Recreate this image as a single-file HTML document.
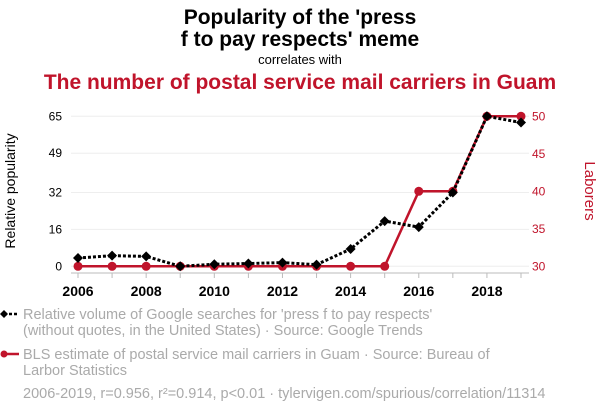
<!DOCTYPE html>
<html><head><meta charset="utf-8"><style>
body{margin:0;width:600px;height:414px;background:#fff;font-family:"Liberation Sans",sans-serif;overflow:hidden}
</style></head><body>
<svg id="c" width="600" height="414" xmlns="http://www.w3.org/2000/svg">
<text x="300" y="24" text-anchor="middle" font-size="21" font-weight="bold" fill="#000">Popularity of the 'press</text>
<text x="300" y="46" text-anchor="middle" font-size="21" font-weight="bold" fill="#000">f to pay respects' meme</text>
<text x="300" y="64" text-anchor="middle" font-size="13" fill="#000">correlates with</text>
<text x="300" y="89" text-anchor="middle" font-size="21" font-weight="bold" fill="#c0142b">The number of postal service mail carriers in Guam</text>
<text transform="translate(15,191) rotate(-90)" text-anchor="middle" font-size="14" fill="#000">Relative popularity</text>
<text transform="translate(585,191) rotate(90)" text-anchor="middle" font-size="15" fill="#c0142b">Laborers</text>
<g id="grid"></g><g id="axes"></g><g id="marks"></g>
<g font-size="14.5" fill="#aaa">
<line x1="4" y1="314" x2="19" y2="314" stroke="#000" stroke-width="2.5" stroke-dasharray="3,2"/>
<path d="M4,310 L8,314 L4,318 L0,314Z" fill="#000"/>
<text x="23" y="319">Relative volume of Google searches for 'press f to pay respects'</text>
<text x="23" y="335">(without quotes, in the United States) · Source: Google Trends</text>
<line x1="4" y1="354" x2="19" y2="354" stroke="#c0142b" stroke-width="2.5"/>
<circle cx="4" cy="354" r="3.5" fill="#c0142b"/>
<text x="23" y="359">BLS estimate of postal service mail carriers in Guam · Source: Bureau of</text>
<text x="23" y="375">Larbor Statistics</text>
<text x="23" y="398">2006-2019, r=0.956, r²=0.914, p&lt;0.01 · tylervigen.com/spurious/correlation/11314</text>
</g>
</svg>
<script>
const years=[2006,2007,2008,2009,2010,2011,2012,2013,2014,2015,2016,2017,2018,2019];
const searches=[3.6,4.6,4.3,0,0.9,1.2,1.6,0.7,7.5,19.6,17,32,65,62.3];
const carriers=[30,30,30,30,30,30,30,30,30,30,40,40,50,50];
const leftTicks=[0,16,32,49,65];
const rightTicks=[30,35,40,45,50];
const xTicks=[2006,2008,2010,2012,2014,2016,2018];
const NS="http://www.w3.org/2000/svg";
const x=v=>78+(v-2006)*(521-78)/13;
const yL=v=>266.3-v*150/65;
const yR=v=>266.3-(v-30)*150/20;
function mk(t,a,p){const e=document.createElementNS(NS,t);for(const k in a)e.setAttribute(k,a[k]);document.getElementById(p).appendChild(e);return e;}
leftTicks.forEach(t=>{
  const g=mk('line',{x1:71,x2:529,y1:yL(t),y2:yL(t),stroke:'#eee','stroke-width':1},'grid');
  
  
  const l=mk('text',{x:62,y:yL(t)+4,'text-anchor':'end','font-size':12,fill:'#000'},'axes');l.textContent=t;
  
  
});
rightTicks.forEach(t=>{
  const l=mk('text',{x:532,y:yR(t)+4,'font-size':12,fill:'#c0142b'},'axes');l.textContent=t;
  
  
});
const ax=mk('line',{x1:71,x2:529,y1:273,y2:273,stroke:'#bbb','stroke-width':1},'axes');


years.forEach(yv=>{mk('line',{x1:x(yv),x2:x(yv),y1:273,y2:278,stroke:'#bbb'},'axes');});
xTicks.forEach(t=>{
  const l=mk('text',{x:x(t),y:296,'text-anchor':'middle','font-size':14,'font-weight':'bold',fill:'#000'},'axes');l.textContent=t;
  
  
});
const rl=mk('polyline',{points:years.map((yv,i)=>x(yv)+','+yR(carriers[i])).join(' '),fill:'none',stroke:'#c0142b','stroke-width':2.5},'marks');


years.forEach((yv,i)=>{
  const c=mk('circle',{cx:x(yv),cy:yR(carriers[i]),r:4.5,fill:'#c0142b'},'marks');
  
  
});
const bl=mk('polyline',{points:years.map((yv,i)=>x(yv)+','+yL(searches[i])).join(' '),fill:'none',stroke:'#000','stroke-width':3,'stroke-dasharray':'3,2'},'marks');


years.forEach((yv,i)=>{
  const cx=x(yv),cy=yL(searches[i]);
  const d=mk('path',{d:`M${cx},${cy-5}L${cx+5},${cy}L${cx},${cy+5}L${cx-5},${cy}Z`,fill:'#000'},'marks');
  
  
});
</script>
</body></html>
